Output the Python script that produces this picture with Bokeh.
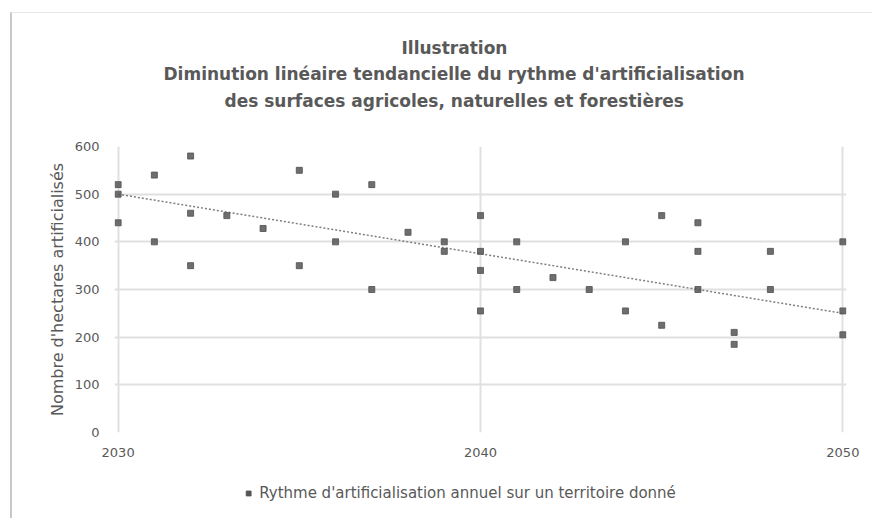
from bokeh.plotting import figure
from bokeh.models import Title, Legend, LegendItem, FixedTicker, Range1d
from bokeh.layouts import column
from bokeh.embed import file_html
from bokeh.resources import INLINE

# ---- data ----
years = [2030, 2030, 2030,
         2031, 2031,
         2032, 2032, 2032,
         2033,
         2034,
         2035, 2035,
         2036, 2036,
         2037, 2037,
         2038,
         2039, 2039,
         2040, 2040, 2040, 2040,
         2041, 2041,
         2042,
         2043,
         2044, 2044,
         2045, 2045,
         2046, 2046, 2046,
         2047, 2047,
         2048, 2048,
         2050, 2050, 2050]
hectares = [520, 500, 440,
            540, 400,
            580, 460, 350,
            455,
            428,
            550, 350,
            500, 400,
            520, 300,
            420,
            400, 380,
            455, 380, 340, 255,
            400, 300,
            325,
            300,
            400, 255,
            455, 225,
            440, 380, 300,
            210, 185,
            380, 300,
            400, 255, 205]
trend_years = [2030, 2050]
trend_values = [500, 250]

x_ticks = [2030, 2040, 2050]
y_ticks = [0, 100, 200, 300, 400, 500, 600]

title_lines = ["Illustration",
               "Diminution linéaire tendancielle du rythme d'artificialisation",
               "des surfaces agricoles, naturelles et forestières"]
title_offsets = [287, 49, 110]   # horizontal placement of each title line (px)
title_standoffs = [5, 2, 8]      # gap above each title line (px)
y_label = "Nombre d'hectares artificialisés"
legend_label = "Rythme d'artificialisation annuel sur un territoire donné"

GREY = "#595959"
GRID = "#e0e0e0"
FONT = "DejaVu Sans"
MARK = "#555555"
W = 860

p = figure(width=W, height=455, output_backend="svg", toolbar_location=None,
           x_range=Range1d(2029.9, 2050.1), y_range=Range1d(0, 600),
           min_border_left=102, min_border_right=26, min_border_top=133,
           min_border_bottom=36)
p.title.visible = False
p.outline_line_color = None
p.background_fill_color = "white"
p.border_fill_color = "white"

# spacer between the title block and the frame, then the title lines
p.add_layout(Title(text=" ", text_font=FONT, text_font_size="17px",
                   text_color="white", standoff=10), "above")
for line, off, so in reversed(list(zip(title_lines, title_offsets, title_standoffs))):
    p.add_layout(Title(text=line, align="left", text_font=FONT,
                       text_font_size="17px", text_font_style="bold",
                       text_color=GREY, offset=off, standoff=so), "above")

# axes
p.xaxis.ticker = FixedTicker(ticks=x_ticks)
p.yaxis.ticker = FixedTicker(ticks=y_ticks)
for ax in (p.xaxis[0], p.yaxis[0]):
    ax.axis_line_color = None
    ax.major_tick_line_color = None
    ax.minor_tick_line_color = None
    ax.major_label_text_font = FONT
    ax.major_label_text_font_size = "13px"
    ax.major_label_text_color = GREY
p.xaxis.major_label_standoff = 9
p.yaxis.major_label_standoff = 9
p.yaxis.axis_label = y_label
p.yaxis.axis_label_text_font = FONT
p.yaxis.axis_label_text_font_size = "16px"
p.yaxis.axis_label_text_font_style = "normal"
p.yaxis.axis_label_text_color = GREY
p.yaxis.axis_label_standoff = 5

p.xgrid.ticker = FixedTicker(ticks=x_ticks)
p.ygrid.ticker = FixedTicker(ticks=y_ticks)
p.xgrid.grid_line_color = GRID
p.ygrid.grid_line_color = GRID
p.xgrid.grid_line_width = 2
p.ygrid.grid_line_width = 2

p.line(trend_years, trend_values, line_color="#7f7f7f", line_width=1.5,
       line_dash="2 2")
p.scatter(years, hectares, marker="square", size=6, fill_color=MARK,
          line_color=MARK, fill_alpha=0.85, line_alpha=0.85)

# legend strip below the chart (its own renderer lies outside the visible range)
leg = figure(width=W - 42, height=50, output_backend="svg", toolbar_location=None,
             x_range=Range1d(0, 100), y_range=Range1d(0, 100),
             min_border_left=0, min_border_right=0, min_border_top=0,
             min_border_bottom=0, x_axis_type=None, y_axis_type=None)
leg.title.visible = False
leg.outline_line_color = None
leg.grid.visible = False
leg_r = leg.scatter(years, hectares, marker="square", size=6, fill_color=MARK,
                    line_color=MARK)
legend = Legend(items=[LegendItem(label=legend_label, renderers=[leg_r])],
                orientation="horizontal", location="center",
                label_text_font=FONT, label_text_font_size="15px",
                label_text_color=GREY, border_line_color=None,
                background_fill_alpha=0, glyph_width=12, glyph_height=12,
                label_standoff=5, padding=0, margin=0)
leg.add_layout(legend)

layout = column(p, leg, spacing=0)
layout.margin = (12, 0, 0, 10)
layout.styles = {"border-left": "2px solid #c8c8c8",
                 "border-top": "1px solid #e6e6e6"}
open("out.html", "w").write(file_html(layout, INLINE))
